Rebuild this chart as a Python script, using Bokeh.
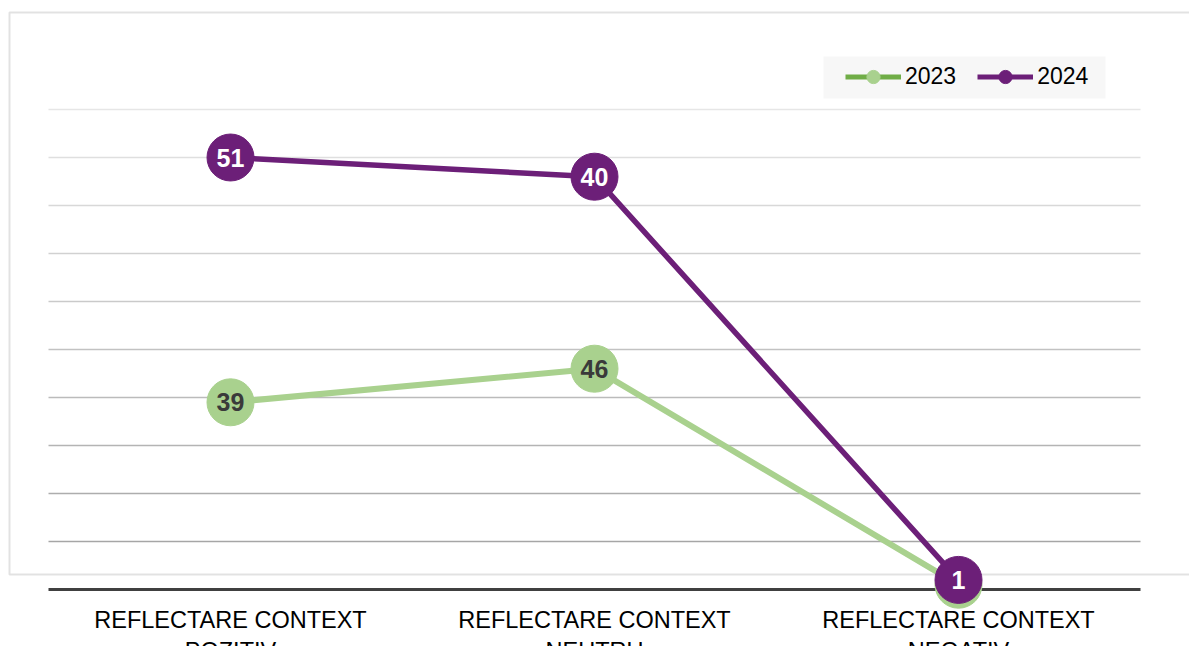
from bokeh.plotting import figure
from bokeh.models import Range1d, Legend, LegendItem, BoxAnnotation, ColumnDataSource
from bokeh.core.properties import value
from bokeh.embed import file_html
from bokeh.resources import INLINE

# ---- data ----
categories = ["REFLECTARE CONTEXT\nPOZITIV", "REFLECTARE CONTEXT\nNEUTRU", "REFLECTARE CONTEXT\nNEGATIV"]
series_names = ["2023", "2024"]
values_2023 = [39, 46, 1]
values_2024 = [51, 40, 1]
grid_ticks = [10, 20, 30, 40, 50, 60, 70, 80, 90, 100]

# ---- layout geometry (pixels) ----
W, H = 1189, 646
CAT_PX = 364.0          # pixels per category
FIRST_CENTER = 230.0    # canvas x of first category centre
Y_PX = 4.8              # pixels per unit
ZERO_Y = 589.0          # canvas y of value 0

x_start = -FIRST_CENTER / CAT_PX
x_end = x_start + W / CAT_PX
y_end = ZERO_Y / Y_PX
y_start = -(H - ZERO_Y) / Y_PX

def cx(px):
    return x_start + px / CAT_PX

def cy(py):
    return (ZERO_Y - py) / Y_PX

FONT = "Liberation Sans"
GREEN = "#a9d18e"
GREEN_DARK = "#70ad47"
PURPLE = "#6c1f78"

p = figure(width=W, height=H, output_backend="svg", toolbar_location=None,
           x_range=Range1d(x_start, x_end), y_range=Range1d(y_start, y_end),
           x_axis_type=None, y_axis_type=None, min_border=0)
p.outline_line_color = None
p.background_fill_color = "white"
p.border_fill_color = "white"

xs = list(range(len(categories)))
stack_2023 = list(values_2023)
stack_2024 = [a + b for a, b in zip(values_2023, values_2024)]

# outer chart border
p.add_layout(BoxAnnotation(left=cx(9), right=cx(W + 20), top=cy(12), bottom=cy(574),
                           fill_alpha=0, line_color="#a0a0a0", line_width=2, level="underlay"))

# legend background
p.add_layout(BoxAnnotation(left=cx(823), right=cx(1105), top=cy(56), bottom=cy(98),
                           fill_color="#f7f7f7", fill_alpha=1, line_alpha=0, level="underlay"))

# gridlines (light at top, darker toward bottom)
def grey(v):
    c = int(round(0xa6 + (0xe6 - 0xa6) * (v - 10) / 90.0))
    return "#%02x%02x%02x" % (c, c, c)

p.segment(x0=[-0.5] * len(grid_ticks), x1=[len(categories) - 0.5] * len(grid_ticks),
          y0=grid_ticks, y1=grid_ticks, line_color=[grey(v) for v in grid_ticks], line_width=1.5)

# baseline
p.segment(x0=[-0.5], x1=[len(categories) - 0.5], y0=[0], y1=[0], line_color="#404040", line_width=3)

# 2023 series
src23 = ColumnDataSource(dict(x=xs, y=stack_2023, lab=[str(v) for v in values_2023]))
p.line("x", "y", source=src23, line_color=GREEN, line_width=6)
p.scatter("x", "y", source=src23, size=47, fill_color=GREEN, line_color=GREEN)
p.text("x", "y", text="lab", source=src23, text_font=value(FONT), text_font_style="bold",
       text_font_size="25px", text_color="#3a3a3a", text_align="center", text_baseline="middle")

# 2024 series
src24 = ColumnDataSource(dict(x=xs, y=stack_2024, lab=[str(v) for v in values_2024]))
p.line("x", "y", source=src24, line_color=PURPLE, line_width=5.5)
p.scatter("x", "y", source=src24, size=47, fill_color=PURPLE, line_color=PURPLE)
p.text("x", "y", text="lab", source=src24, text_font=value(FONT), text_font_style="bold",
       text_font_size="25px", text_color="white", text_align="center", text_baseline="middle")

# category labels
csrc = ColumnDataSource(dict(x=xs, y=[cy(606)] * len(xs), t=categories))
p.text("x", "y", text="t", source=csrc, text_font=value(FONT), text_font_size="23.5px",
       text_color="black", text_align="center", text_baseline="top", text_line_height=1.2)

# legend proxies (one point outside the visible ranges)
proxy = ColumnDataSource(dict(x=[x_start - 1], y=[y_start - 1]))
l1 = p.line("x", "y", source=proxy, line_color=GREEN_DARK, line_width=5)
s1 = p.scatter("x", "y", source=proxy, size=13, fill_color=GREEN, line_color=GREEN)
l2 = p.line("x", "y", source=proxy, line_color=PURPLE, line_width=5)
s2 = p.scatter("x", "y", source=proxy, size=13, fill_color=PURPLE, line_color=PURPLE)
legend = Legend(items=[LegendItem(label=series_names[0], renderers=[l1, s1]),
                       LegendItem(label=series_names[1], renderers=[l2, s2])],
                orientation="horizontal", location=(841, H - 97),
                background_fill_alpha=0, border_line_alpha=0,
                glyph_width=56, glyph_height=33, label_height=20,
                label_text_font=FONT, label_text_font_size="23px", label_text_color="black",
                label_standoff=4, spacing=21, padding=4, margin=0)
p.add_layout(legend)

open("out.html", "w").write(file_html(p, INLINE))
